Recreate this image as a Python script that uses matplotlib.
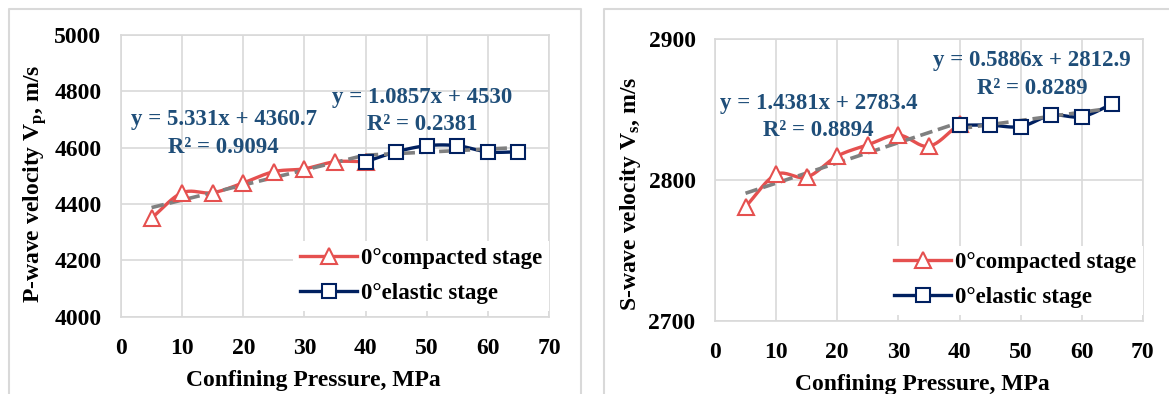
import numpy as np
import matplotlib.pyplot as plt
from matplotlib.lines import Line2D

plt.rcParams['font.family'] = ['Liberation Serif', 'DejaVu Serif']
plt.rcParams['font.weight'] = 'bold'
plt.rcParams['axes.labelweight'] = 'bold'
plt.rcParams['mathtext.fontset'] = 'custom'
plt.rcParams['mathtext.rm'] = 'Liberation Serif:bold'
plt.rcParams['mathtext.it'] = 'Liberation Serif:bold'

# confining pressure, MPa
p_comp = [5, 10, 15, 20, 25, 30, 35, 40]
p_elas = [40, 45, 50, 55, 60, 65]

# P-wave velocity, m/s
vp_comp = [4350, 4440, 4440, 4475, 4515, 4525, 4550, 4550]
vp_elas = [4550, 4585, 4607, 4607, 4585, 4585]

# S-wave velocity, m/s
vs_comp = [2781, 2804, 2802, 2817, 2825, 2832, 2824, 2840]
vs_elas = [2839, 2839, 2838, 2846, 2845, 2854]

# linear trendlines (slope, intercept, R2)
vp_fit_comp = (5.331, 4360.7, 0.9094)
vp_fit_elas = (1.0857, 4530, 0.2381)
vs_fit_comp = (1.4381, 2783.4, 0.8894)
vs_fit_elas = (0.5886, 2812.9, 0.8289)

RED = '#E5504F'
NAVY = '#002060'
EQ_BLUE = '#1F4E79'
GRID = '#D9D9D9'
FS = 17.0


def smooth(x, y, n=20):
    # Catmull-Rom curve through the points, like Excel's smoothed line
    x = np.asarray(x, float)
    y = np.asarray(y, float)
    px = np.concatenate([[2 * x[0] - x[1]], x, [2 * x[-1] - x[-2]]])
    py = np.concatenate([[2 * y[0] - y[1]], y, [2 * y[-1] - y[-2]]])
    xs, ys = [], []
    t = np.linspace(0, 1, n, endpoint=False)
    for i in range(1, len(px) - 2):
        for arr, out in ((px, xs), (py, ys)):
            p0, p1, p2, p3 = arr[i - 1], arr[i], arr[i + 1], arr[i + 2]
            out.extend(0.5 * (2 * p1 + (-p0 + p2) * t
                              + (2 * p0 - 5 * p1 + 4 * p2 - p3) * t ** 2
                              + (-p0 + 3 * p1 - 3 * p2 + p3) * t ** 3))
    xs.append(x[-1])
    ys.append(y[-1])
    return np.array(xs), np.array(ys)


def draw_panel(ax, xc, yc, xe, ye, fit_c, fit_e, ylim, yticks, ylabel, eq_pos,
               xlabel_x, ylabel_y):
    sx, sy = smooth(xc, yc)
    ax.plot(sx, sy, color=RED, lw=2.4, zorder=3, solid_capstyle='round')
    ax.plot(xc, yc, ls='none', marker='^', ms=11, mfc='white', mec=RED, mew=1.5, zorder=5)
    sx, sy = smooth(xe, ye)
    ax.plot(sx, sy, color=NAVY, lw=2.4, zorder=3, solid_capstyle='round')
    ax.plot(xe, ye, ls='none', marker='s', ms=10, mfc='white', mec=NAVY, mew=1.5, zorder=5)

    for xs, fit in ((xc, fit_c), (xe, fit_e)):
        xx = np.array([xs[0], xs[-1]])
        ax.plot(xx, fit[0] * xx + fit[1], color='#808080', lw=2.6, ls=(0, (3.5, 1.6)), zorder=4)

    for (x, y), fit in zip(eq_pos, (fit_c, fit_e)):
        ax.text(x, y, f'y = {fit[0]:g}x + {fit[1]:g}\nR² = {fit[2]:.4f}',
                ha='center', va='center', color=EQ_BLUE, fontsize=16.5,
                fontweight='bold', linespacing=1.4, zorder=6)

    handles = [Line2D([], [], color=RED, lw=2.4, marker='^', ms=11, mfc='white', mec=RED, mew=1.5),
               Line2D([], [], color=NAVY, lw=2.4, marker='s', ms=10, mfc='white', mec=NAVY, mew=1.5)]
    leg = ax.legend(handles, ['0°compacted stage', '0°elastic stage'], loc='lower right',
                    bbox_to_anchor=(1.0, 0.02), fontsize=16.5, frameon=True, fancybox=False,
                    edgecolor='none', framealpha=1, handlelength=2.5, handletextpad=0.15,
                    labelspacing=0.6, borderpad=0.3, borderaxespad=0)
    leg.set_zorder(7)

    ax.set_xlim(0, 70)
    ax.set_xticks(range(0, 71, 10))
    ax.set_ylim(*ylim)
    ax.set_yticks(yticks)
    ax.grid(True, color=GRID, lw=1.2)
    ax.set_axisbelow(True)
    for s in ax.spines.values():
        s.set_color(GRID)
        s.set_linewidth(1.2)
    ax.tick_params(axis='y', length=0, labelsize=FS, pad=14)
    ax.tick_params(axis='x', length=0, labelsize=FS, pad=15)
    ax.set_xlabel('Confining Pressure, MPa', fontsize=FS)
    ax.set_ylabel(ylabel, fontsize=FS)
    ax.xaxis.set_label_coords(xlabel_x, -0.19)
    ax.yaxis.set_label_coords(-0.168, ylabel_y)


fig = plt.figure(figsize=(11.69, 3.94), dpi=100)
ax1 = fig.add_axes([0.1035, 0.1962, 0.3661, 0.715])
ax2 = fig.add_axes([0.6116, 0.186, 0.3661, 0.7142])

draw_panel(ax1, p_comp, vp_comp, p_elas, vp_elas, vp_fit_comp, vp_fit_elas,
           (4000, 5000), range(4000, 5001, 200),
           r'P-wave velocity V$_{\mathregular{p}}$, m/s',
           [(16.8, 4650), (49.2, 4730)], 0.449, 0.47)
draw_panel(ax2, p_comp, vs_comp, p_elas, vs_elas, vs_fit_comp, vs_fit_elas,
           (2700, 2900), [2700, 2800, 2900],
           r'S-wave velocity V$_{\mathregular{s}}$, m/s',
           [(16.9, 2845), (51.9, 2875)], 0.485, 0.45)

# chart-area borders
W, H = 1169, 394
for pts in ([(9, 394), (9, 9), (581, 9), (581, 394)],
            [(604, 394), (604, 9), (1169, 9)]):
    xs = [p[0] / W for p in pts]
    ys = [1 - p[1] / H for p in pts]
    fig.add_artist(Line2D(xs, ys, color=GRID, lw=1.5, transform=fig.transFigure))

fig.savefig('out.png', dpi=100, facecolor='white')
